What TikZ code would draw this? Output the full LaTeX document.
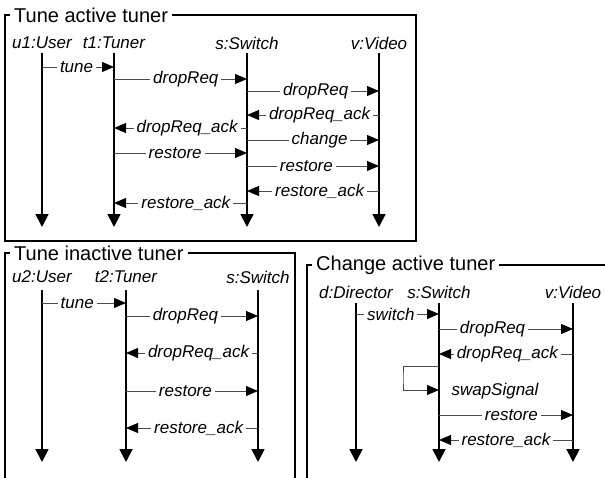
\documentclass[tikz,border=0pt]{standalone}
\usepackage{fontspec}
\setmainfont{Liberation Sans}
\usetikzlibrary{arrows.meta}

\tikzset{
  head/.style={font=\fontsize{17}{20}\selectfont\itshape, inner sep=0pt},
  title/.style={font=\fontsize{20}{24}\selectfont, fill=white, anchor=west, inner xsep=4pt, inner ysep=0pt},
  life/.style={line width=1.8pt, -{Triangle[length=13pt,width=13pt]}},
  msg/.style={line width=0.8pt, draw=black!70, -{Triangle[length=12pt,width=10pt,color=black]}},
  lbl/.style={font=\fontsize{17}{20}\selectfont\itshape, fill=white, inner xsep=3pt, inner ysep=0pt},
  frame/.style={line width=1.2pt}
}

\begin{document}
\begin{tikzpicture}[x=1pt, y=-1pt]
  \useasboundingbox (0,0) rectangle (605,477);

  % tune active tuner
  \draw [frame] (5,15) rectangle (416,241);
  \node [title] (f1) at (10,15) {Tune active tuner};
  \foreach \n/\x/\t in {u1/42/u1:User, t1/114/t1:Tuner, s1/247/s:Switch, v1/379/v:Video}{
    \node [head] (\n) at (\x,43) {\t};
    \draw [life] (\n |- 0,53) -- (\n |- 0,227);
  }
  \foreach \a/\b/\y/\p/\t in {u1/t1/67/0.48/tune, t1/s1/79/0.54/dropReq,
      s1/v1/91/0.52/dropReq, v1/s1/115/0.45/dropReq\_ack, s1/t1/128/0.45/dropReq\_ack,
      s1/v1/140/0.55/change, t1/s1/153/0.46/restore, s1/v1/166/0.45/restore,
      v1/s1/191/0.45/restore\_ack, s1/t1/203/0.46/restore\_ack}
    \draw [msg] (\a |- 0,\y) -- node [lbl, pos=\p] {\t} (\b |- 0,\y);

  % tune inactive tuner
  \draw [frame] (5,480) -- (5,253) -- (295,253) -- (295,480);
  \node [title] (f2) at (10,253) {Tune inactive tuner};
  \foreach \n/\x/\t in {u2/42/u2:User, t2/126/t2:Tuner, s2/258/s:Switch}{
    \node [head] (\n) at (\x,277) {\t};
    \draw [life] (\n |- 0,290) -- (\n |- 0,462);
  }
  \foreach \a/\b/\y/\p/\t in {u2/t2/303/0.42/tune, t2/s2/316/0.45/dropReq,
      s2/t2/353/0.45/dropReq\_ack, t2/s2/391/0.45/restore, s2/t2/428/0.45/restore\_ack}
    \draw [msg] (\a |- 0,\y) -- node [lbl, pos=\p] {\t} (\b |- 0,\y);

  % change active tuner
  \draw [frame] (307,480) -- (307,265) -- (610,265);
  \node [title] (f3) at (312,265) {Change active tuner};
  \foreach \n/\x/\t in {d3/356/d:Director, s3/439/s:Switch, v3/573/v:Video}{
    \node [head] (\n) at (\x,292) {\t};
    \draw [life] (\n |- 0,303) -- (\n |- 0,462);
  }
  \foreach \a/\b/\y/\p/\t in {d3/s3/314/0.42/switch, s3/v3/329/0.40/dropReq,
      v3/s3/354/0.49/dropReq\_ack, s3/v3/415/0.54/restore, v3/s3/440/0.50/restore\_ack}
    \draw [msg] (\a |- 0,\y) -- node [lbl, pos=\p] {\t} (\b |- 0,\y);
  \coordinate (loop) at (403,378);
  \draw [msg] (s3 |- 0,366) -| (loop) |- (s3 |- 0,390);
  \node [head] (swap) at (495,391) {swapSignal};
\end{tikzpicture}
\end{document}
